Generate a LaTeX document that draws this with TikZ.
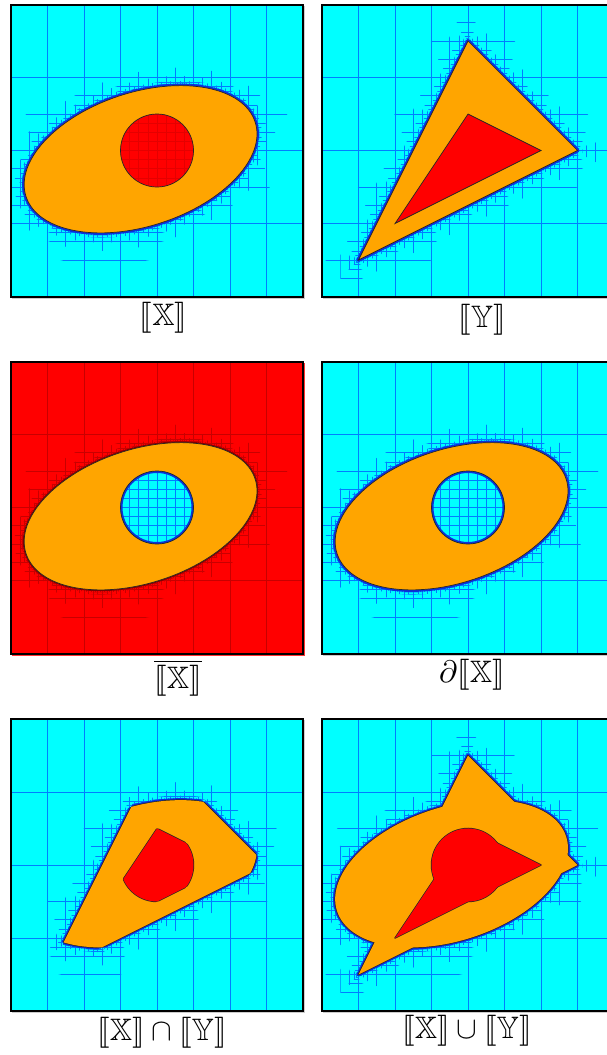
\documentclass[tikz,border=0pt]{standalone}
\usepackage{amssymb}
\usepackage{stmaryrd}
\definecolor{cyanbg}{RGB}{0,255,255}
\definecolor{orX}{RGB}{255,165,0}
\definecolor{rdX}{RGB}{255,0,0}
\definecolor{gridbl}{RGB}{0,125,255}
\definecolor{halobl}{RGB}{10,50,220}
\definecolor{gridrd}{RGB}{200,0,0}
\definecolor{halord}{RGB}{130,0,0}
\tikzset{
  gridln/.style={line width=0.55pt},
  haloln/.style={line width=4pt, line join=round},
  edgeln/.style={draw=black!85, line width=0.7pt},
  edgetwo/.style={draw=black!85, line width=1.4pt, line join=round},
  frameln/.style={draw=black, line width=2pt},
  lbl/.style={inner sep=0pt, scale=3.1},
  panel/.style={x=36.5pt, y=36.5pt}
}
\newcommand\ellipseX[2][0]{\path[rotate around={18:(-0.45,-0.24)},#2] (-0.45,-0.24) ellipse [x radius={3.3+#1}, y radius={1.83+#1}];}
\newcommand\triO[1]{\path[#1] (0,3) -- (3,0) -- (-3,-3) -- cycle;}
\newcommand\triI[1]{\path[#1] (0,1) -- (2,0) -- (-2,-2) -- cycle;}
\newcommand\circX[1]{\path[#1] (0,0) circle [radius=1];}
\newcommand\ellClip[1]{\ellipseX[#1]{clip}}
\newcommand\triClip[1]{\clip (-3-#1,-3-#1) rectangle (3+#1,3+#1);%
  \pgfmathsetmacro\sfac{(1.529+#1)/1.529}%
  \path[clip, shift={(0.4187,0.4187)}, scale=\sfac, shift={(-0.4187,-0.4187)}] (0,3) -- (3,0) -- (-3,-3) -- cycle;}
\newcommand\bothClip[1]{\ellClip{#1}\triClip{#1}}
\newcommand\pave[2]{%
  \draw[gridln, draw=#2] (-4,-4) grid[xstep=1, ystep=2] (4,4);
  \foreach \st/\dd in {1/0.9, 0.5/0.5, 0.25/0.27, 0.125/0.13, 0.0625/0.07}{%
    \begin{scope}#1{\dd}\draw[gridln, draw=#2] (-4,-4) grid[step=\st] (4,4);\end{scope}}}
\newcommand\frameX[1]{%
  \draw[#1, line width=1pt] (-3.97,-4.05) -- (4.05,-4.05) -- (4.05,3.97);
  \draw[frameln] (-4,-4) rectangle (4,4);}
\begin{document}
\begin{tikzpicture}[x=1pt,y=-1pt]
\useasboundingbox (0,0) rectangle (607,1055);
\clip (0,0) rectangle (607,1055);
\fill[white] (0,0) rectangle (607,1055);
% ---------- panel 1 : [[X]]
\begin{scope}[shift={(157,150.5)}, panel]
  \fill[cyanbg] (-4,-4) rectangle (4,4);
  \pave{\ellClip}{gridbl}
  \ellipseX{haloln, draw=halobl}
  \ellipseX{fill=orX, edgeln}
  \circX{fill=rdX}
  \begin{scope}\clip (0,0) circle [radius=1];
    \draw[gridln, draw=rdX!80!black, opacity=0.5] (-1,-1) grid[step=0.25] (1,1);
  \end{scope}
  \circX{edgeln}
  \frameX{gray!40}
\end{scope}
% ---------- panel 2 : [[Y]]
\begin{scope}[shift={(468,150.5)}, panel]
  \fill[cyanbg] (-4,-4) rectangle (4,4);
  \pave{\triClip}{gridbl}
  \triO{haloln, draw=halobl}
  \triO{fill=orX, edgeln}
  \triI{fill=rdX, edgeln}
  \frameX{gray!40}
\end{scope}
% ---------- panel 3 : complement
\begin{scope}[shift={(157,507.5)}, panel]
  \fill[rdX] (-4,-4) rectangle (4,4);
  \pave{\ellClip}{gridrd}
  \ellipseX{haloln, draw=halord, line width=2.5pt}
  \ellipseX{fill=orX, edgeln}
  \circX{fill=cyanbg}
  \begin{scope}\clip (0,0) circle [radius=1];
    \draw[gridln, draw=gridbl] (-1,-1) grid[step=0.25] (1,1);
    \circX{haloln, draw=halobl}
  \end{scope}
  \circX{edgeln}
  \frameX{rdX!80}
\end{scope}
% ---------- panel 4 : boundary
\begin{scope}[shift={(468,507.5)}, panel]
  \fill[cyanbg] (-4,-4) rectangle (4,4);
  \pave{\ellClip}{gridbl}
  \ellipseX{haloln, draw=halobl}
  \ellipseX{fill=orX, edgeln}
  \circX{fill=cyanbg}
  \begin{scope}\clip (0,0) circle [radius=1];
    \draw[gridln, draw=gridbl] (-1,-1) grid[step=0.25] (1,1);
    \circX{haloln, draw=halobl}
  \end{scope}
  \circX{edgeln}
  \frameX{gray!40}
\end{scope}
% ---------- panel 5 : intersection
\begin{scope}[shift={(157,865)}, panel]
  \fill[cyanbg] (-4,-4) rectangle (4,4);
  \pave{\bothClip}{gridbl}
  \begin{scope}\triO{clip}\ellipseX{haloln, draw=halobl}\ellipseX{edgetwo}\end{scope}
  \begin{scope}\ellipseX{clip}\triO{haloln, draw=halobl}\triO{edgetwo}\end{scope}
  \begin{scope}\triO{clip}\ellipseX{fill=orX}\end{scope}
  \begin{scope}\triI{clip}\circX{edgetwo}\end{scope}
  \begin{scope}\circX{clip}\triI{edgetwo}\end{scope}
  \begin{scope}\triI{clip}\circX{fill=rdX}\end{scope}
  \frameX{gray!40}
\end{scope}
% ---------- panel 6 : union
\begin{scope}[shift={(468,865)}, panel]
  \fill[cyanbg] (-4,-4) rectangle (4,4);
  \pave{\ellClip}{gridbl}
  \pave{\triClip}{gridbl}
  \ellipseX{haloln, draw=halobl}
  \triO{haloln, draw=halobl}
  \ellipseX{edgetwo}
  \triO{edgetwo}
  \ellipseX{fill=orX}
  \triO{fill=orX}
  \circX{edgetwo}
  \triI{edgetwo}
  \circX{fill=rdX}
  \triI{fill=rdX}
  \frameX{gray!40}
\end{scope}
% ---------- labels
\node[lbl] (l1) at (163.5,318) {$\llbracket\mathbb{X}\rrbracket$};
\node[lbl] (l2) at (482,320) {$\llbracket\mathbb{Y}\rrbracket$};
\node[lbl] (l3) at (178,678) {$\overline{\llbracket\mathbb{X}\rrbracket}$};
\node[lbl] (l4) at (472,675) {$\partial\llbracket\mathbb{X}\rrbracket$};
\node[lbl] (l5) at (162,1033) {$\llbracket\mathbb{X}\rrbracket\cap\llbracket\mathbb{Y}\rrbracket$};
\node[lbl] (l6) at (467,1031) {$\llbracket\mathbb{X}\rrbracket\cup\llbracket\mathbb{Y}\rrbracket$};
\end{tikzpicture}
\end{document}
